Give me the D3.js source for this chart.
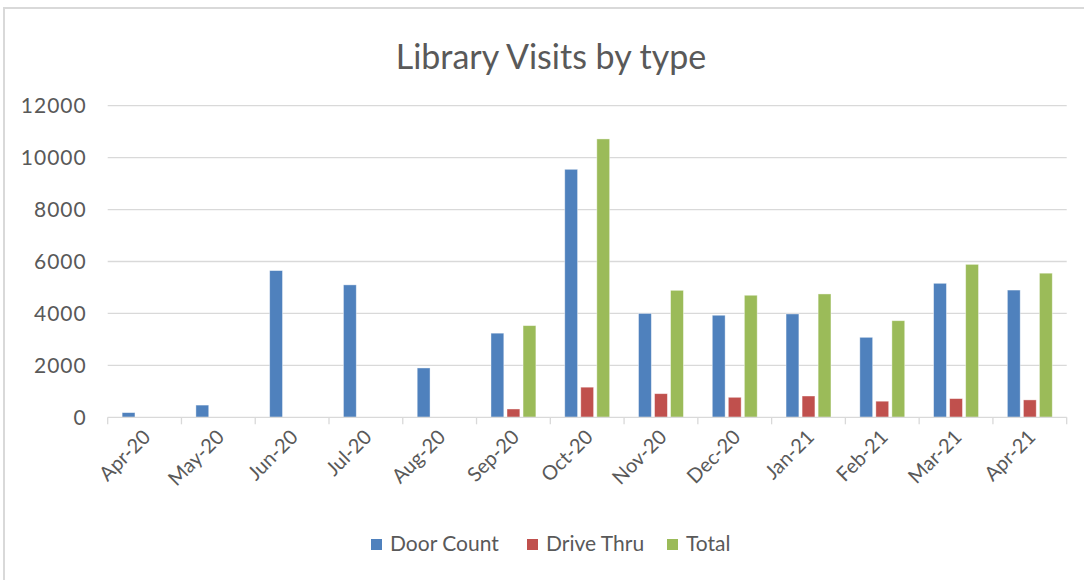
<!DOCTYPE html>
<html>
<head>
<meta charset="utf-8">
<script src="https://cdn.jsdelivr.net/npm/d3@7"></script>
<style>
  body { margin: 0; background: #fff; }
  svg { display: block; }
  svg text { font-family: Lato, "Open Sans", sans-serif; }
  .axis text { fill: #595959; font-size: 20px; }
  .y.axis text { font-size: 21px; letter-spacing: 1px; }
</style>
</head>
<body>
<svg width="1084" height="580"></svg>
<script>
// **** data ****
var months = ["Apr-20", "May-20", "Jun-20", "Jul-20", "Aug-20", "Sep-20", "Oct-20",
              "Nov-20", "Dec-20", "Jan-21", "Feb-21", "Mar-21", "Apr-21"];
var seriesNames = ["Door Count", "Drive Thru", "Total"];
var doorCount = [180, 470, 5650, 5100, 1900, 3240, 9550, 4000, 3930, 3980, 3080, 5160, 4900];
var driveThru = [0, 0, 0, 0, 0, 320, 1160, 910, 770, 820, 620, 720, 670];
var total     = [0, 0, 0, 0, 0, 3530, 10720, 4890, 4700, 4750, 3720, 5890, 5550];
var yTicks = [0, 2000, 4000, 6000, 8000, 10000, 12000];
var colors = ["#4f81bd", "#c0504d", "#9bbb59"];

var rows = months.map(function(m, i) {
    return { month: m, values: [doorCount[i], driveThru[i], total[i]] };
});

var svg = d3.select("svg");

// chart frame
svg.append("rect")
    .attr("x", 4).attr("y", 8)
    .attr("width", 1090).attr("height", 580)
    .attr("fill", "none")
    .attr("stroke", "#d9d9d9")
    .attr("stroke-width", 2);

// **** scales ****
var x0 = d3.scaleBand().domain(months).range([107.7, 1066.7]).padding(0);
var x1 = d3.scaleBand().domain(d3.range(seriesNames.length))
    .range([0, x0.bandwidth()]).paddingInner(0.2).paddingOuter(0.9);
var y = d3.scaleLinear().domain([0, 12000]).range([417.3, 105.7]);

// gridlines
svg.append("g").selectAll("line")
    .data(yTicks.filter(function(d) { return d > 0; }))
    .enter().append("line")
    .attr("x1", 107.7).attr("x2", 1066.7)
    .attr("y1", function(d) { return y(d); })
    .attr("y2", function(d) { return y(d); })
    .attr("stroke", "#d9d9d9")
    .attr("stroke-width", 1.3);

// y axis labels
var yAxis = svg.append("g").attr("class", "y axis")
    .attr("transform", "translate(107.7,0)")
    .call(d3.axisLeft(y).tickValues(yTicks).tickFormat(d3.format("d"))
        .tickSize(0).tickPadding(21));
yAxis.select(".domain").remove();
yAxis.attr("font-family", null).attr("font-size", null);

// bars
var groups = svg.append("g").selectAll("g.month")
    .data(rows)
    .enter().append("g")
    .attr("class", "month")
    .attr("transform", function(d) { return "translate(" + x0(d.month) + ",0)"; });

groups.selectAll("rect")
    .data(function(d) { return d.values; })
    .enter().append("rect")
    .attr("x", function(d, i) { return x1(i); })
    .attr("width", x1.bandwidth())
    .attr("y", function(d) { return y(d); })
    .attr("height", function(d) { return y(0) - y(d); })
    .attr("fill", function(d, i) { return colors[i]; })
    .attr("stroke", "#ffffff")
    .attr("stroke-opacity", 0.5)
    .attr("stroke-width", 0.8);

// x axis
var xAxis = svg.append("g").attr("class", "x axis")
    .attr("transform", "translate(0," + y(0) + ")");

xAxis.append("line")
    .attr("x1", 107.7).attr("x2", 1066.7)
    .attr("stroke", "#d9d9d9").attr("stroke-width", 1.3);

xAxis.selectAll("line.tick")
    .data(months.concat(["end"]))
    .enter().append("line")
    .attr("class", "tick")
    .attr("x1", function(d, i) { return 107.7 + i * x0.step(); })
    .attr("x2", function(d, i) { return 107.7 + i * x0.step(); })
    .attr("y1", 0).attr("y2", 7)
    .attr("stroke", "#d9d9d9").attr("stroke-width", 1.3);

xAxis.selectAll("text")
    .data(months)
    .enter().append("text")
    .attr("text-anchor", "end")
    .attr("transform", function(d) {
        return "translate(" + (x0(d) + x0.bandwidth() / 2 + 7) + ",21) rotate(-45)";
    })
    .text(function(d) { return d; });

// title
svg.append("text")
    .attr("x", 551)
    .attr("y", 69)
    .attr("text-anchor", "middle")
    .attr("fill", "#595959")
    .style("font-size", "34px")
    .text("Library Visits by type");

// legend
var legendX = [371, 527, 667];
var legend = svg.append("g").selectAll("g.legend")
    .data(seriesNames)
    .enter().append("g")
    .attr("class", "legend")
    .attr("transform", function(d, i) { return "translate(" + legendX[i] + ",539)"; });

legend.append("rect")
    .attr("width", 11).attr("height", 11)
    .attr("fill", function(d, i) { return colors[i]; });

legend.append("text")
    .attr("x", 19).attr("y", 12)
    .attr("fill", "#595959")
    .style("font-size", "21px")
    .text(function(d) { return d; });
</script>
</body>
</html>
